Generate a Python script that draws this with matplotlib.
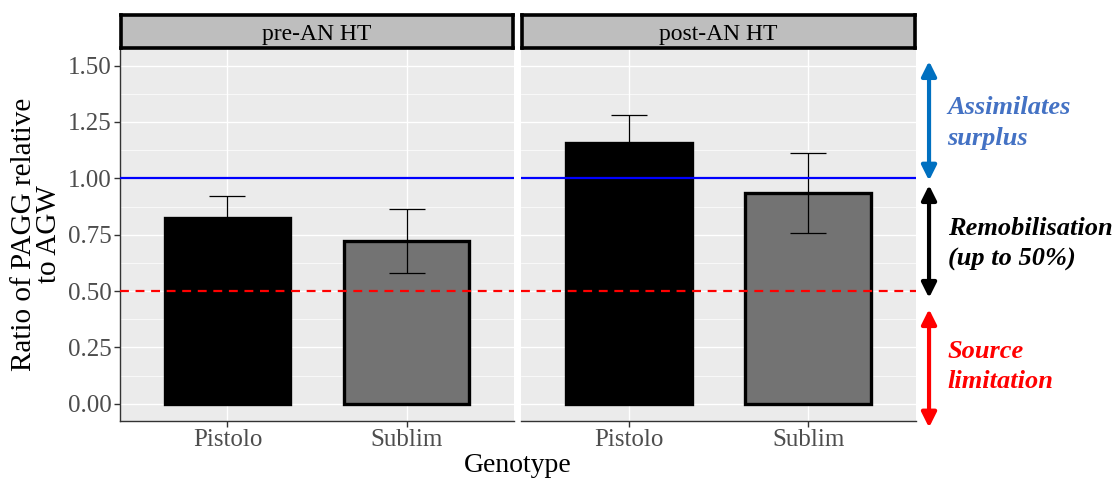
import matplotlib
matplotlib.use("Agg")
import matplotlib.pyplot as plt
from matplotlib.ticker import FixedLocator
import numpy as np

plt.rcParams['font.family'] = ['Liberation Serif', 'DejaVu Serif']

# ---- data ----
panels = ["pre-AN HT", "post-AN HT"]
genotypes = ["Pistolo", "Sublim"]
pre_values = [0.822, 0.722]
pre_errors = [0.100, 0.142]
post_values = [1.155, 0.936]
post_errors = [0.127, 0.178]
bar_colors = ["#000000", "#737373"]
yticks = [0.00, 0.25, 0.50, 0.75, 1.00, 1.25, 1.50]
surplus_line = 1.0
source_line = 0.5

W, H = 1117, 479
fig = plt.figure(figsize=(W / 100, H / 100), dpi=100)

def px_rect(x0, y0, x1, y1):
    return [x0 / W, 1 - y1 / H, (x1 - x0) / W, (y1 - y0) / H]

panel_px = [(120, 514), (521, 916)]
top_px, bot_px = 48, 421
strip_top = 15

values_all = [pre_values, post_values]
errors_all = [pre_errors, post_errors]
axes = []
for i, (x0, x1) in enumerate(panel_px):
    ax = fig.add_axes(px_rect(x0, top_px, x1, bot_px))
    axes.append(ax)
    ax.set_facecolor("#EBEBEB")
    xs = np.arange(1, len(genotypes) + 1)
    ax.set_xlim(0.4, 2.6)
    ax.set_ylim(-0.076, 1.578)
    ax.yaxis.set_major_locator(FixedLocator(yticks))
    ax.yaxis.set_minor_locator(FixedLocator([0.125, 0.375, 0.625, 0.875, 1.125, 1.375]))
    ax.set_xticks(xs)
    ax.set_xticklabels(genotypes, fontsize=18, color="#4D4D4D")
    ax.grid(True, which="major", color="white", lw=1.0, zorder=0)
    ax.grid(True, which="minor", axis="y", color="white", lw=0.5, zorder=0)
    ax.set_axisbelow(True)
    ax.bar(xs, values_all[i], width=0.7, color=bar_colors, edgecolor="black",
           linewidth=2.4, zorder=2)
    ax.errorbar(xs, values_all[i], yerr=errors_all[i], fmt="none",
                ecolor="black", elinewidth=0.9, capsize=13, capthick=0.9, zorder=3)
    ax.axhline(surplus_line, color="#0000FF", lw=1.6, zorder=4)
    ax.axhline(source_line, color="#FF0000", lw=1.6, ls=(0, (4, 3)), zorder=4)
    for s in ["top", "right"]:
        ax.spines[s].set_visible(False)
    ax.spines["bottom"].set_color("#333333")
    ax.spines["bottom"].set_linewidth(1.0)
    ax.tick_params(axis="x", length=4, color="#333333", width=1, pad=2)
    if i == 0:
        ax.spines["left"].set_color("#333333")
        ax.spines["left"].set_linewidth(1.0)
        ax.set_yticklabels([f"{t:.2f}" for t in yticks], fontsize=18, color="#4D4D4D")
        ax.tick_params(axis="y", which="major", length=4, color="#333333", width=1, pad=2)
        ax.tick_params(axis="y", which="minor", length=0)
        ax.set_ylabel("Ratio of PAGG relative\nto AGW", fontsize=21, linespacing=0.95,
                      labelpad=4)
    else:
        ax.spines["left"].set_visible(False)
        ax.tick_params(axis="y", which="both", length=0, labelleft=False)

    # strip
    sx = fig.add_axes(px_rect(x0 + 1, strip_top, x1 - 1, top_px))
    sx.set_facecolor("#BEBEBE")
    sx.set_xticks([]); sx.set_yticks([])
    for s in sx.spines.values():
        s.set_color("black"); s.set_linewidth(2.6)
    sx.text(0.5, 0.42, panels[i], ha="center", va="center", fontsize=17,
            transform=sx.transAxes)

fig.text(517.5 / W, 1 - 466 / H, "Genotype", ha="center", va="center", fontsize=20)

# ---- right-side annotations ----
axr = axes[1]
tr = axr.get_yaxis_transform()
arrow_x = 1.033
arrows = [((1.52, 0.99), "#0070C0"), ((0.97, 0.47), "black"), ((0.42, -0.105), "#FF0000")]
for (y0, y1), c in arrows:
    axr.annotate("", xy=(arrow_x, y0), xytext=(arrow_x, y1), xycoords=tr, textcoords=tr,
                 annotation_clip=False,
                 arrowprops=dict(arrowstyle="<|-|>", color=c, lw=3.0, mutation_scale=22,
                                 shrinkA=0, shrinkB=0))
labels = [("Assimilates\nsurplus", "#4472C4", 1.245),
          ("Remobilisation\n(up to 50%)", "black", 0.71),
          ("Source\nlimitation", "#FF0000", 0.165)]
for txt, c, y in labels:
    axr.text(1.08, y, txt, transform=tr, ha="left", va="center", fontsize=19,
             fontweight="bold", fontstyle="italic", color=c, linespacing=1.4,
             clip_on=False)

fig.savefig("out.png", dpi=100)
